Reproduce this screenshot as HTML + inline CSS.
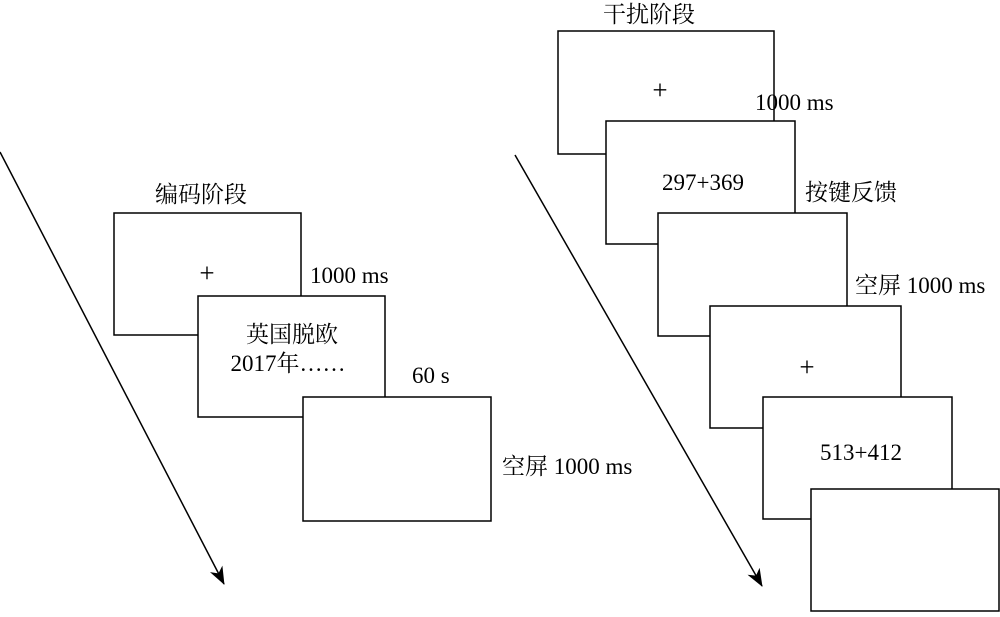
<!DOCTYPE html>
<html><head><meta charset="utf-8"><style>
body{margin:0;background:#fff;}
svg text{font-family:"Liberation Serif","Noto Serif CJK SC",serif;font-size:23px;fill:#000;}
svg text.p{font-size:27px;}
</style></head><body>
<svg width="1000" height="612" viewBox="0 0 1000 612" xmlns="http://www.w3.org/2000/svg">
<defs><marker id="a" markerWidth="18" markerHeight="14" refX="17" refY="7" orient="auto" markerUnits="userSpaceOnUse"><path d="M0,0 L18,7 L0,14 L5,7 Z" fill="#000"/></marker></defs>
<g fill="#fff" stroke="#000" stroke-width="1.5">
<rect x="114" y="213" width="187" height="122"/>
<rect x="198" y="296" width="187" height="121"/>
<rect x="303" y="397" width="188" height="124"/>
<rect x="558" y="31" width="216" height="123"/>
<rect x="606" y="121" width="189" height="123"/>
<rect x="658" y="213" width="189" height="123"/>
<rect x="710" y="306" width="191" height="122"/>
<rect x="763" y="397" width="189" height="122"/>
<rect x="811" y="489" width="188" height="122"/>
</g>
<line x1="0" y1="152" x2="224" y2="584" stroke="#000" stroke-width="1.5" marker-end="url(#a)"/>
<line x1="515" y1="155" x2="762" y2="586" stroke="#000" stroke-width="1.5" marker-end="url(#a)"/>
<text x="155" y="202">编码阶段</text>
<text class="p" x="207" y="282" text-anchor="middle">+</text>
<text x="310" y="283">1000 ms</text>
<text x="292" y="342" text-anchor="middle">英国脱欧</text>
<text x="288" y="371" text-anchor="middle">2017年……</text>
<text x="412" y="383">60 s</text>
<text x="502" y="474">空屏 1000 ms</text>
<text x="603" y="22">干扰阶段</text>
<text class="p" x="660" y="99" text-anchor="middle">+</text>
<text x="755" y="110">1000 ms</text>
<text x="662" y="190">297+369</text>
<text x="805" y="200">按键反馈</text>
<text x="855" y="293">空屏 1000 ms</text>
<text class="p" x="807" y="376" text-anchor="middle">+</text>
<text x="820" y="460">513+412</text>
</svg>
</body></html>
